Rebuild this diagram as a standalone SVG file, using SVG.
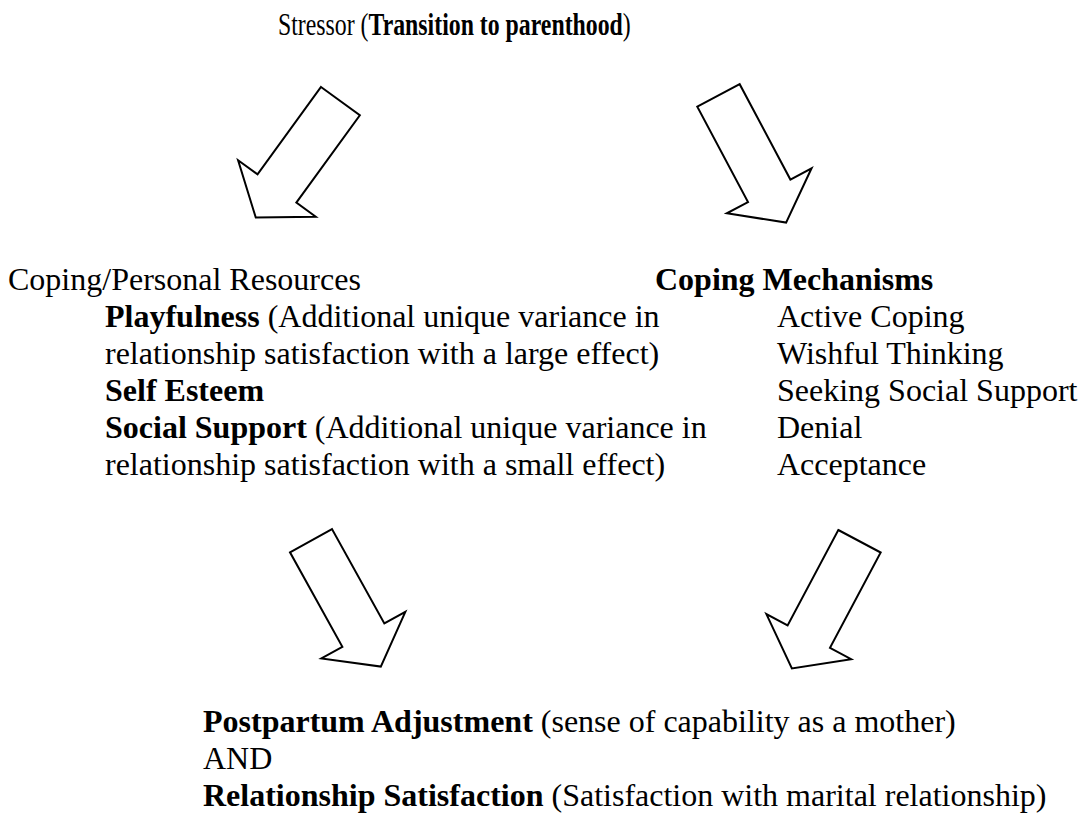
<svg xmlns="http://www.w3.org/2000/svg" width="1085" height="815" viewBox="0 0 1085 815">
<style>
text{font-family:"Liberation Serif","Times New Roman",serif;font-size:32px;fill:#000}
.b{font-weight:bold}
.arrow{fill:#fff;stroke:#000;stroke-width:2;stroke-linejoin:miter}
</style>
<defs>
<polygon id="blockArrow" points="0,0 48,0 48,108 72,108 24,144 -24,108 0,108"/>
</defs>
<rect width="1085" height="815" fill="#fff"/>
<g id="stressor">
<text transform="translate(278,35) scale(0.744,1)" x="0" y="0">Stressor (<tspan class="b">Transition to parenthood</tspan>)</text>
</g>
<g id="resources">
<text x="8" y="290">Coping/Personal Resources</text>
<text x="105" y="327"><tspan class="b">Playfulness</tspan> (Additional unique variance in</text>
<text x="105" y="364">relationship satisfaction with a large effect)</text>
<text x="105" y="401" class="b">Self Esteem</text>
<text x="105" y="438"><tspan class="b">Social Support</tspan> (Additional unique variance in</text>
<text x="105" y="475">relationship satisfaction with a small effect)</text>
</g>
<g id="mechanisms">
<text x="655" y="290" class="b">Coping Mechanisms</text>
<text x="777" y="327">Active Coping</text>
<text x="777" y="364">Wishful Thinking</text>
<text x="777" y="401">Seeking Social Support</text>
<text x="777" y="438">Denial</text>
<text x="777" y="475">Acceptance</text>
</g>
<g id="outcome">
<text x="203" y="732"><tspan class="b">Postpartum Adjustment</tspan> (sense of capability as a mother)</text>
<text x="203" y="769">AND</text>
<text x="203" y="806"><tspan class="b">Relationship Satisfaction</tspan> (Satisfaction with marital relationship)</text>
</g>
<g id="connectors">
<use href="#blockArrow" class="arrow" transform="translate(321,87) rotate(36)"/>
<use href="#blockArrow" class="arrow" transform="translate(697.3,106.7) rotate(-28)"/>
<use href="#blockArrow" class="arrow" transform="translate(290,552.3) rotate(-29)"/>
<use href="#blockArrow" class="arrow" transform="translate(838.3,530) rotate(28)"/>
</g>
</svg>
